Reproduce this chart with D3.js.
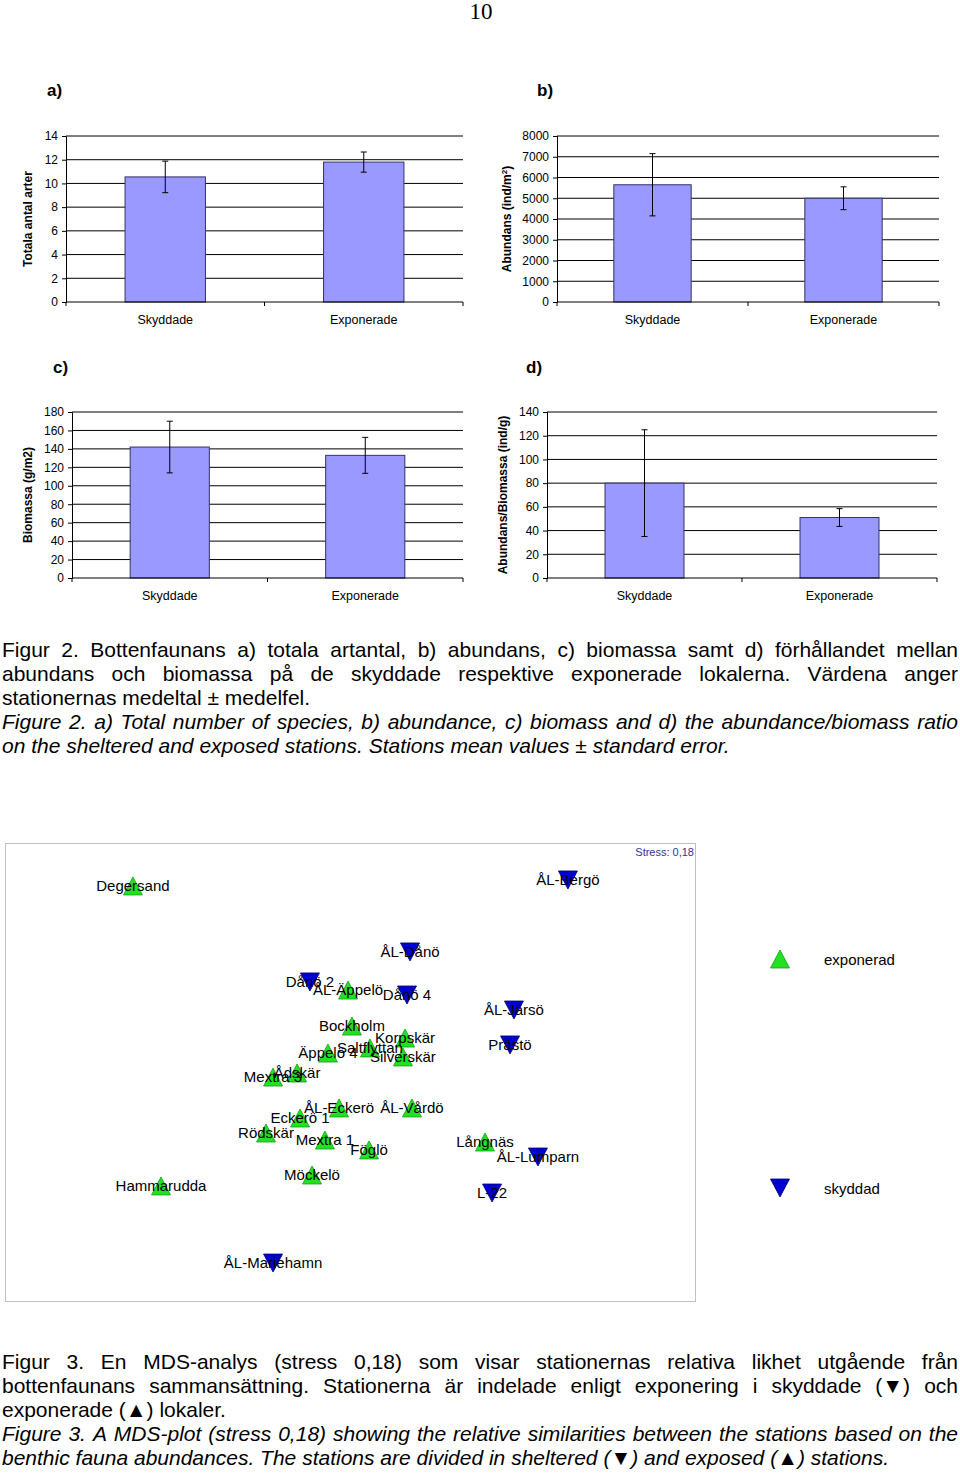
<!DOCTYPE html>
<html>
<head>
<meta charset="utf-8">
<script src="https://cdn.jsdelivr.net/npm/d3@7"></script>
<style>
  body { margin: 0; background: #fff; }
  svg { display: block; }
  text { font-family: "Liberation Sans", Arial, sans-serif; }
</style>
</head>
<body>
<svg id="page" width="960" height="1474"></svg>
<script>
// bar chart data (Figur 2)
const barCategories = ['Skyddade', 'Exponerade'];
const speciesMean = [10.55, 11.8];
const speciesSE = [1.33, 0.85];
const speciesTicks = [0, 2, 4, 6, 8, 10, 12, 14];
const abundanceMean = [5650, 5000];
const abundanceSE = [1500, 550];
const abundanceTicks = [0, 1000, 2000, 3000, 4000, 5000, 6000, 7000, 8000];
const biomassMean = [142, 133];
const biomassSE = [28, 19.5];
const biomassTicks = [0, 20, 40, 60, 80, 100, 120, 140, 160, 180];
const ratioMean = [80, 51];
const ratioSE = [45, 7.5];
const ratioTicks = [0, 20, 40, 60, 80, 100, 120, 140];

// MDS data (Figur 3)
const stationNames = ['Degersand', 'ÅL-Bergö', 'ÅL-Dånö', 'Dånö 2', 'ÅL-Äppelö', 'Dånö 4',
  'ÅL-Järsö', 'Bockholm', 'Korpskär', 'Äppelö 4', 'Saltflyttan', 'Silverskär', 'Prästö',
  'Ådskär', 'Mextra 3', 'ÅL-Eckerö', 'ÅL-Vårdö', 'Eckerö 1', 'Rödskär', 'Mextra 1',
  'Föglö', 'Långnäs', 'ÅL-Lumparn', 'Möckelö', 'Hammarudda', 'L-22', 'ÅL-Mariehamn'];
const stationDim1 = [-1.447, 1.453, 0.40, -0.267, -0.013, 0.38,
  1.093, 0.013, 0.367, -0.147, 0.133, 0.353, 1.067,
  -0.353, -0.513, -0.073, 0.413, -0.333, -0.56, -0.167,
  0.127, 0.90, 1.253, -0.253, -1.26, 0.947, -0.513];
const stationDim2 = [1.227, 1.267, 0.787, 0.587, 0.533, 0.50,
  0.40, 0.293, 0.213, 0.113, 0.147, 0.087, 0.167,
  -0.02, -0.047, -0.253, -0.253, -0.32, -0.42, -0.467,
  -0.533, -0.48, -0.58, -0.70, -0.773, -0.82, -1.287];
const stationGroup = ['exponerad', 'skyddad', 'skyddad', 'skyddad', 'exponerad', 'skyddad',
  'skyddad', 'exponerad', 'exponerad', 'exponerad', 'exponerad', 'exponerad', 'skyddad',
  'exponerad', 'exponerad', 'exponerad', 'exponerad', 'exponerad', 'exponerad', 'exponerad',
  'exponerad', 'exponerad', 'skyddad', 'exponerad', 'exponerad', 'skyddad', 'skyddad'];
const legendGroups = ['exponerad', 'skyddad'];

const svg = d3.select('#page');
svg.append('rect').attr('width', 960).attr('height', 1474).attr('fill', '#fff');

// sidnummer
svg.append('text')
  .attr('x', 481).attr('y', 19)
  .attr('text-anchor', 'middle')
  .style('font-family', '"Liberation Serif", "Times New Roman", serif')
  .style('font-size', '23px')
  .text('10');

// stapeldiagram med felstaplar
function drawBarPanel(opt) {
  const g = svg.append('g');
  const x = d3.scaleBand().domain(barCategories).range([opt.x0, opt.x1]);
  const y = d3.scaleLinear().domain([0, opt.ticks[opt.ticks.length - 1]]).range([opt.y1, opt.y0]);

  // rutnät
  g.selectAll('.grid')
    .data(opt.ticks.slice(1))
    .enter().append('line')
    .attr('x1', opt.x0).attr('x2', opt.x1)
    .attr('y1', d => y(d)).attr('y2', d => y(d))
    .attr('stroke', '#000').attr('stroke-width', 1);

  // y-axel
  const yAxis = d3.axisLeft(y).tickValues(opt.ticks).tickFormat(d3.format('d')).tickSize(4).tickPadding(4);
  const ya = g.append('g').attr('transform', `translate(${opt.x0},0)`).call(yAxis);
  ya.select('.domain').attr('stroke', '#000');
  ya.selectAll('text').style('font-size', '12px').style('font-family', '"Liberation Sans", Arial, sans-serif').attr('fill', '#000');

  // staplar
  const bw = x.bandwidth() * 0.405;
  g.selectAll('.bar')
    .data(opt.mean)
    .enter().append('rect')
    .attr('x', (d, i) => x(barCategories[i]) + x.bandwidth() / 2 - bw / 2)
    .attr('y', d => y(d))
    .attr('width', bw)
    .attr('height', d => y(0) - y(d))
    .attr('fill', '#9999ff')
    .attr('stroke', '#333366')
    .attr('stroke-width', 1);

  // x-axel
  g.append('line')
    .attr('x1', opt.x0).attr('x2', opt.x1)
    .attr('y1', y(0)).attr('y2', y(0))
    .attr('stroke', '#000');
  g.selectAll('.xtick')
    .data([0, 1, 2])
    .enter().append('line')
    .attr('x1', d => opt.x0 + d * x.step()).attr('x2', d => opt.x0 + d * x.step())
    .attr('y1', y(0)).attr('y2', y(0) + 4)
    .attr('stroke', '#000');
  g.selectAll('.xlab')
    .data(barCategories)
    .enter().append('text')
    .attr('x', d => x(d) + x.bandwidth() / 2)
    .attr('y', opt.y1 + 22)
    .attr('text-anchor', 'middle')
    .style('font-size', '12.5px')
    .text(d => d);

  // felstaplar
  const eb = g.selectAll('.err')
    .data(opt.mean)
    .enter().append('g');
  eb.append('line')
    .attr('x1', (d, i) => x(barCategories[i]) + x.bandwidth() / 2)
    .attr('x2', (d, i) => x(barCategories[i]) + x.bandwidth() / 2)
    .attr('y1', (d, i) => y(d - opt.se[i]))
    .attr('y2', (d, i) => y(d + opt.se[i]))
    .attr('stroke', '#000');
  [-1, 1].forEach(s => {
    eb.append('line')
      .attr('x1', (d, i) => x(barCategories[i]) + x.bandwidth() / 2 - 3)
      .attr('x2', (d, i) => x(barCategories[i]) + x.bandwidth() / 2 + 3)
      .attr('y1', (d, i) => y(d + s * opt.se[i]))
      .attr('y2', (d, i) => y(d + s * opt.se[i]))
      .attr('stroke', '#000');
  });

  // y-titel
  const t = g.append('text')
    .attr('transform', `translate(${opt.labelX},${(opt.y0 + opt.y1) / 2}) rotate(-90)`)
    .attr('text-anchor', 'middle')
    .attr('dy', '0.35em')
    .style('font-size', '12px')
    .style('font-weight', 'bold');
  t.append('tspan').text(opt.title);
  if (opt.sup) {
    t.append('tspan').attr('dy', '-4').style('font-size', '8px').text(opt.sup);
    t.append('tspan').attr('dy', '4').text(opt.after);
  }

  // panelbokstav
  svg.append('text')
    .attr('x', opt.letterX).attr('y', opt.letterY)
    .style('font-size', '17px').style('font-weight', 'bold')
    .text(opt.letter);
}

drawBarPanel({ x0: 66, x1: 463, y0: 136, y1: 302, ticks: speciesTicks, mean: speciesMean, se: speciesSE,
  labelX: 28, title: 'Totala antal arter', letter: 'a)', letterX: 47, letterY: 96 });
drawBarPanel({ x0: 557, x1: 939, y0: 136, y1: 302, ticks: abundanceTicks, mean: abundanceMean, se: abundanceSE,
  labelX: 507, title: 'Abundans (ind/m', sup: '2', after: ')', letter: 'b)', letterX: 537, letterY: 96 });
drawBarPanel({ x0: 72, x1: 463, y0: 412, y1: 578, ticks: biomassTicks, mean: biomassMean, se: biomassSE,
  labelX: 28, title: 'Biomassa (g/m2)', letter: 'c)', letterX: 53, letterY: 373 });
drawBarPanel({ x0: 547, x1: 937, y0: 412, y1: 578, ticks: ratioTicks, mean: ratioMean, se: ratioSE,
  labelX: 503, title: 'Abundans/Biomassa (ind/g)', letter: 'd)', letterX: 526, letterY: 373 });

// justerad brödtext
function captionLine(words, y, justify, italic) {
  const size = '21px';
  const g = svg.append('g');
  const nodes = words.map(w => g.append('text')
    .attr('y', y)
    .style('font-size', size)
    .style('font-style', italic ? 'italic' : 'normal')
    .text(w));
  const widths = nodes.map(n => n.node().getComputedTextLength());
  const total = d3.sum(widths);
  const space = g.append('text').style('font-size', size).text('\u00a0');
  const spaceW = space.node().getComputedTextLength();
  space.remove();
  const gap = justify ? (956 - total) / (words.length - 1) : spaceW;
  let xPos = 2;
  nodes.forEach((n, i) => { n.attr('x', xPos); xPos += widths[i] + gap; });
}

const fig2Lines = [
  ['Figur 2. Bottenfaunans a) totala artantal, b) abundans, c) biomassa samt d) förhållandet mellan', true, false],
  ['abundans och biomassa på de skyddade respektive exponerade lokalerna. Värdena anger', true, false],
  ['stationernas medeltal ± medelfel.', false, false],
  ['Figure 2. a) Total number of species, b) abundance, c) biomass and d) the abundance/biomass ratio', true, true],
  ['on the sheltered and exposed stations. Stations mean values ± standard error.', false, true]
];
fig2Lines.forEach((l, i) => captionLine(l[0].split(' '), 657 + i * 24, l[1], l[2]));

const fig3Lines = [
  ['Figur 3. En MDS-analys (stress 0,18) som visar stationernas relativa likhet utgående från', true, false],
  ['bottenfaunans sammansättning. Stationerna är indelade enligt exponering i skyddade (▼) och', true, false],
  ['exponerade (▲) lokaler.', false, false],
  ['Figure 3. A MDS-plot (stress 0,18) showing the relative similarities between the stations based on the', true, true],
  ['benthic fauna abundances. The stations are divided in sheltered (▼) and exposed (▲) stations.', false, true]
];
fig3Lines.forEach((l, i) => captionLine(l[0].split(' '), 1369 + i * 24, l[1], l[2]));

// MDS-diagram
svg.append('rect')
  .attr('x', 5.5).attr('y', 843.5).attr('width', 690).attr('height', 458)
  .attr('fill', '#fff').attr('stroke', '#c0c0c0');
svg.append('text')
  .attr('x', 694).attr('y', 856)
  .attr('text-anchor', 'end')
  .attr('fill', '#333399')
  .style('font-size', '11px')
  .text('Stress: 0,18');

const mx = d3.scaleLinear().domain([-1, 1]).range([200, 500]);
const my = d3.scaleLinear().domain([-1, 1]).range([1220, 920]);
const groupFill = d3.scaleOrdinal().domain(legendGroups).range(['#22e022', '#0000d0']);
const groupStroke = d3.scaleOrdinal().domain(legendGroups).range(['#13a013', '#00006a']);
// triangel, centrerad på sin omslutande ruta
const triPath = (up) => {
  const p = d3.path();
  const w = 9.5, h = 9;
  const s = up ? 1 : -1;
  p.moveTo(0, -h * s);
  p.lineTo(w, h * s);
  p.lineTo(-w, h * s);
  p.closePath();
  return p.toString();
};
const triangle = (sel, group) => sel
  .attr('d', triPath(group === 'exponerad'))
  .attr('fill', groupFill(group))
  .attr('stroke', groupStroke(group))
  .attr('stroke-width', 0.8);

const pts = svg.append('g');
stationNames.forEach((name, i) => {
  pts.append('path')
    .attr('transform', `translate(${mx(stationDim1[i])},${my(stationDim2[i])})`)
    .call(triangle, stationGroup[i]);
});
stationNames.forEach((name, i) => {
  pts.append('text')
    .attr('x', mx(stationDim1[i]))
    .attr('y', my(stationDim2[i]) + 5)
    .attr('text-anchor', 'middle')
    .style('font-size', '15px')
    .text(name);
});

// förklaring
const legendY = d3.scalePoint().domain(legendGroups).range([959, 1188]);
legendGroups.forEach(grp => {
  svg.append('path')
    .attr('transform', `translate(780,${legendY(grp)})`)
    .call(triangle, grp);
  svg.append('text')
    .attr('x', 824).attr('y', legendY(grp) + 6)
    .style('font-size', '15px')
    .text(grp);
});
</script>
</body>
</html>
